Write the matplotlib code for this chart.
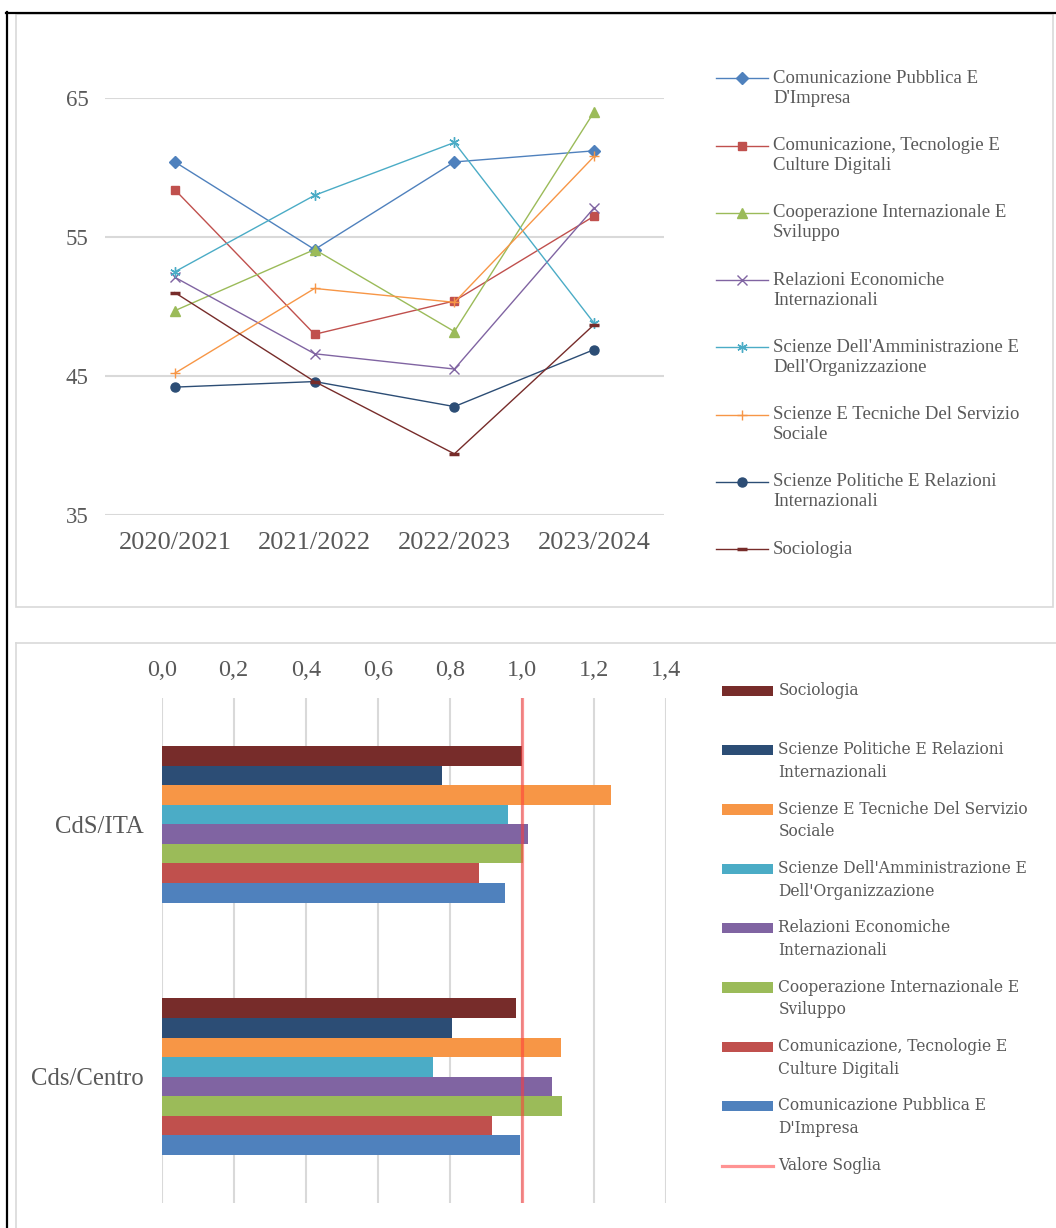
import textwrap
import numpy as np
import matplotlib
matplotlib.use("Agg")
import matplotlib.pyplot as plt
from matplotlib.lines import Line2D
from matplotlib.patches import Rectangle
from matplotlib.legend_handler import HandlerLine2D, HandlerPatch

W, H = 1056, 1228
DPI = 100
TXT = "#595959"
GRID = "#d9d9d9"
SERIF = "Liberation Serif"

# ---- data ----
years = ["2020/2021", "2021/2022", "2022/2023", "2023/2024"]
programmes = [
    "Comunicazione Pubblica E D'Impresa",
    "Comunicazione, Tecnologie E Culture Digitali",
    "Cooperazione Internazionale E Sviluppo",
    "Relazioni Economiche Internazionali",
    "Scienze Dell'Amministrazione E Dell'Organizzazione",
    "Scienze E Tecniche Del Servizio Sociale",
    "Scienze Politiche E Relazioni Internazionali",
    "Sociologia",
]
com_pubblica = [60.4, 54.1, 60.4, 61.2]
com_tecnologie = [58.4, 48.0, 50.4, 56.5]
cooperazione = [49.7, 54.1, 48.2, 64.0]
relazioni = [52.1, 46.6, 45.5, 57.1]
amministrazione = [52.5, 58.0, 61.8, 48.8]
servizio_sociale = [45.2, 51.3, 50.3, 60.8]
scienze_politiche = [44.2, 44.6, 42.8, 46.9]
sociologia = [51.0, 44.6, 39.4, 48.7]
trend = [com_pubblica, com_tecnologie, cooperazione, relazioni,
         amministrazione, servizio_sociale, scienze_politiche, sociologia]

groups = ["CdS/ITA", "Cds/Centro"]
# one value per programme for each group
ratio_ita = [0.953, 0.880, 1.003, 1.017, 0.963, 1.248, 0.778, 1.000]
ratio_centro = [0.995, 0.918, 1.113, 1.084, 0.754, 1.109, 0.805, 0.983]
soglia = 1.0
soglia_name = "Valore Soglia"

colors = ["#4F81BD", "#C0504D", "#9BBB59", "#8064A2",
          "#4BACC6", "#F79646", "#2C4D75", "#772C2A"]
markers = ["D", "s", "^", "x", (6, 2, 0), "+", "o", "_"]
msizes = [6.0, 6.0, 6.5, 6.5, 7.5, 7.5, 6.5, 7.0]
mews = [1, 1, 1, 1.0, 1.0, 1.0, 1, 2.5]


def fx(px):
    return px / W


def fy(py):
    return 1 - py / H


def two_lines(name, width=31):
    s = textwrap.fill(name, width)
    if "\n" not in s:
        s += "\n"
    return s


class LiftedLine(HandlerLine2D):
    # puts the handle next to the first text line, like Excel does
    def __init__(self, lift, **kw):
        super().__init__(**kw)
        self.lift = lift

    def create_artists(self, legend, orig_handle, xdescent, ydescent,
                       width, height, fontsize, trans):
        return super().create_artists(legend, orig_handle, xdescent,
                                      ydescent - 2 * self.lift, width,
                                      height, fontsize, trans)


class LiftedPatch(HandlerPatch):
    def __init__(self, lift, **kw):
        super().__init__(**kw)
        self.lift = lift

    def create_artists(self, legend, orig_handle, xdescent, ydescent,
                       width, height, fontsize, trans):
        return super().create_artists(legend, orig_handle, xdescent,
                                      ydescent - self.lift, width,
                                      height, fontsize, trans)


plt.rcParams["font.family"] = [SERIF, "DejaVu Serif"]
fig = plt.figure(figsize=(W / DPI, H / DPI), dpi=DPI)

# ---- frames ----
fig.add_artist(Line2D([fx(6), fx(1055)], [fy(12.7)] * 2, color="black",
                      lw=1.6, transform=fig.transFigure))
fig.add_artist(Line2D([fx(7)] * 2, [fy(12), 0], color="black",
                      lw=1.6, transform=fig.transFigure))
fig.add_artist(Rectangle((fx(16), fy(607)), fx(1053) - fx(16), (607 - 14) / H,
                         fill=False, edgecolor=GRID, lw=1.2,
                         transform=fig.transFigure))
fig.add_artist(Line2D([fx(16), 1], [fy(643)] * 2, color=GRID, lw=1.2,
                      transform=fig.transFigure))
fig.add_artist(Line2D([fx(16)] * 2, [fy(643), 0], color=GRID, lw=1.2,
                      transform=fig.transFigure))

# ---- top: line chart ----
ax1 = fig.add_axes([fx(105), fy(515), (664 - 105) / W, (515 - 98) / H])
x = np.arange(len(years))
lines = []
for vals, name, c, m, ms, mew in zip(trend, programmes, colors, markers, msizes, mews):
    ln, = ax1.plot(x, vals, color=c, lw=1.0, marker=m, ms=ms, mew=mew,
                   mec=c, mfc=c, label=name, zorder=3)
    lines.append(ln)
ax1.set_xlim(-0.5, 3.5)
ax1.set_ylim(35, 65)
ax1.set_yticks([35, 45, 55, 65])
ax1.set_xticks(x, years)
ax1.grid(axis="y", color=GRID, lw=1.5)
ax1.set_axisbelow(True)
for s in ax1.spines.values():
    s.set_visible(False)
ax1.tick_params(axis="y", length=0, pad=12, labelsize=16.5, labelcolor=TXT)
ax1.tick_params(axis="x", length=0, pad=12, labelsize=19, labelcolor=TXT)

leg1 = ax1.legend(lines, [two_lines(p) for p in programmes], loc="upper left",
                  bbox_to_anchor=(fx(716), fy(70)), bbox_transform=fig.transFigure,
                  frameon=False, borderpad=0, borderaxespad=0,
                  handlelength=2.75, handletextpad=0.3, labelspacing=1.62,
                  prop={"family": SERIF, "size": 13.5}, labelcolor=TXT,
                  handler_map={Line2D: LiftedLine(lift=7.2)})
for t in leg1.get_texts():
    t.set_linespacing(1.22)

# ---- bottom: bar chart ----
ax2 = fig.add_axes([fx(161.7), fy(1203), (665.7 - 161.7) / W, (1203 - 698) / H])
ypos = np.arange(len(groups))
bar_h = 0.0775
bars = []
for i, (name, c) in enumerate(zip(programmes, colors)):
    vals = [ratio_ita[i], ratio_centro[i]]
    b = ax2.barh(ypos + (3.5 - i) * bar_h, vals, height=bar_h, color=c,
                 label=name, zorder=2)
    bars.append(b)
vline = ax2.axvline(soglia, color="#ff3b3b", alpha=0.55, lw=2.3, zorder=3,
                    label=soglia_name)
ax2.set_xlim(0, 1.4)
ax2.set_ylim(1.5, -0.5)
xt = np.round(np.arange(0, 1.41, 0.2), 1)
ax2.set_xticks(xt, [f"{v:.1f}".replace(".", ",") for v in xt])
ax2.set_yticks(ypos, groups)
ax2.xaxis.tick_top()
ax2.grid(axis="x", color=GRID, lw=1.5)
ax2.set_axisbelow(True)
for s in ax2.spines.values():
    s.set_visible(False)
ax2.tick_params(axis="x", length=0, pad=12, labelsize=17.5, labelcolor=TXT)
ax2.tick_params(axis="y", length=0, pad=13, labelsize=17.8, labelcolor=TXT)

handles2 = [b.patches[0] for b in bars[::-1]] + [vline]
labels2 = [two_lines(p) for p in programmes[::-1]] + [two_lines(soglia_name)]
leg2 = ax2.legend(handles2, labels2, loc="upper left",
                  bbox_to_anchor=(fx(722), fy(682)), bbox_transform=fig.transFigure,
                  frameon=False, borderpad=0, borderaxespad=0,
                  handlelength=3.3, handleheight=0.65, handletextpad=0.33,
                  labelspacing=1.26,
                  prop={"family": "DejaVu Serif", "size": 11.2}, labelcolor=TXT,
                  handler_map={Line2D: LiftedLine(lift=8.6),
                               Rectangle: LiftedPatch(lift=8.6)})
for t in leg2.get_texts():
    t.set_linespacing(1.44)

fig.savefig("out.png", dpi=DPI)
